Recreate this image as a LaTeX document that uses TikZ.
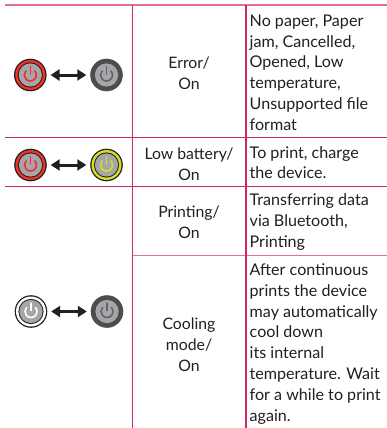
\documentclass[tikz,border=0pt]{standalone}
\usepackage{fontspec}
\setmainfont{Lato}
\usetikzlibrary{arrows.meta}
\definecolor{rule}{RGB}{205,40,105}
\definecolor{ruleb}{RGB}{226,110,155}
\definecolor{btn}{RGB}{166,166,170}
\definecolor{txt}{RGB}{35,31,32}
\definecolor{ringgrey}{RGB}{77,77,79}
\definecolor{glyphgrey}{RGB}{100,100,104}
\definecolor{redon}{RGB}{238,49,36}
\definecolor{yelon}{RGB}{214,222,35}
\tikzset{
  x=1pt,y=-1pt,
  hline/.style={draw=rule,line width=1pt},
  vline/.style={draw=rule,line width=1.3pt},
  lbl/.style={font=\fontsize{15.8}{20.8}\selectfont,text=txt,align=center,inner sep=0pt},
  desc/.style={font=\fontsize{16.1}{20.8}\selectfont,text=txt,align=left,anchor=north west,inner sep=0pt},
  swap/.style={draw=txt,line width=3pt,{Triangle[length=9pt,width=11pt]}-{Triangle[length=9pt,width=11pt]},shorten >=3.5pt,shorten <=3.5pt},
}
\newcommand{\icon}[6]{% name,x,y,outer,ring,glyph
  \node[circle,minimum size=33pt,inner sep=0pt] (#1) at (#2,#3) {};
  \fill[#4] (#1.center) circle[radius=16.3];
  \fill[#5] (#1.center) circle[radius=15];
  \fill[#4] (#1.center) circle[radius=12.6];
  \fill[btn] (#1.center) circle[radius=11.6];
  \draw[#6,line width=1.6pt,line cap=round] (#2,#3) ++(-43:6) arc[start angle=-43,end angle=223,radius=6];
  \draw[#6,line width=1.6pt,line cap=round] (#2,#3) ++(0,-1) -- ++(0,-7.5);
}
\begin{document}
\begin{tikzpicture}
\useasboundingbox (0,0) rectangle (387,428);
\fill[white] (0,0) rectangle (387,428);
% grid
\coordinate (tl) at (5,5);   \coordinate (tr) at (387,5);
\coordinate (al) at (5,137); \coordinate (ar) at (387,137);
\coordinate (bl) at (5,186); \coordinate (br) at (387,186);
\coordinate (cl) at (132.7,255.5); \coordinate (cr) at (387,255.5);
\coordinate (v1t) at (132.7,5); \coordinate (v1b) at (132.7,428);
\coordinate (v2t) at (246,5);   \coordinate (v2b) at (246,428);
\draw[hline,draw=ruleb,line width=1.3pt] (tl) -- (tr);
\draw[hline] (al) -- (ar);
\draw[hline] (bl) -- (br);
\draw[hline,draw=ruleb,line width=1.3pt] (cl) -- (cr);
\draw[vline] (v1t) -- (v1b);
\draw[vline] (v2t) -- (v2b);
% icons
\icon{a1}{30.3}{75}{txt}{redon}{redon}
\icon{a2}{106.5}{75}{ringgrey}{ringgrey}{glyphgrey}
\icon{b1}{30.5}{165}{txt}{redon}{redon}
\icon{b2}{106.5}{165}{txt}{yelon}{yelon}
\icon{c1}{31}{311.5}{txt}{white}{white}
\icon{c2}{107}{311.5}{ringgrey}{ringgrey}{glyphgrey}
\draw[swap] (a1) -- (a2);
\draw[swap] (b1) -- (b2);
\draw[swap] (c1) -- (c2);
% labels
\node[lbl] (l1) at (189,73) {Error/\\On};
\node[lbl] (l2) at (189,164) {Low battery/\\On};
\node[lbl] (l3) at (189,222) {Printing/\\On};
\node[lbl] (l4) at (189,344.5) {Cooling\\mode/\\On};
\node[desc] (d1) at (249.5,14.5) {No paper, Paper\\jam, Cancelled,\\Opened, Low\\temperature,\\Unsupported file\\format};
\node[desc] (d2) at (249.5,146) {To print, charge\\the device.};
\node[desc] (d3) at (249.5,193.5) {Transferring data\\via Bluetooth,\\Printing};
\node[desc] (d4) at (249.5,263.5) {After continuous\\prints the device\\may automatically\\cool down\\its internal\\temperature. Wait\\for a while to print\\again.};
\end{tikzpicture}
\end{document}
